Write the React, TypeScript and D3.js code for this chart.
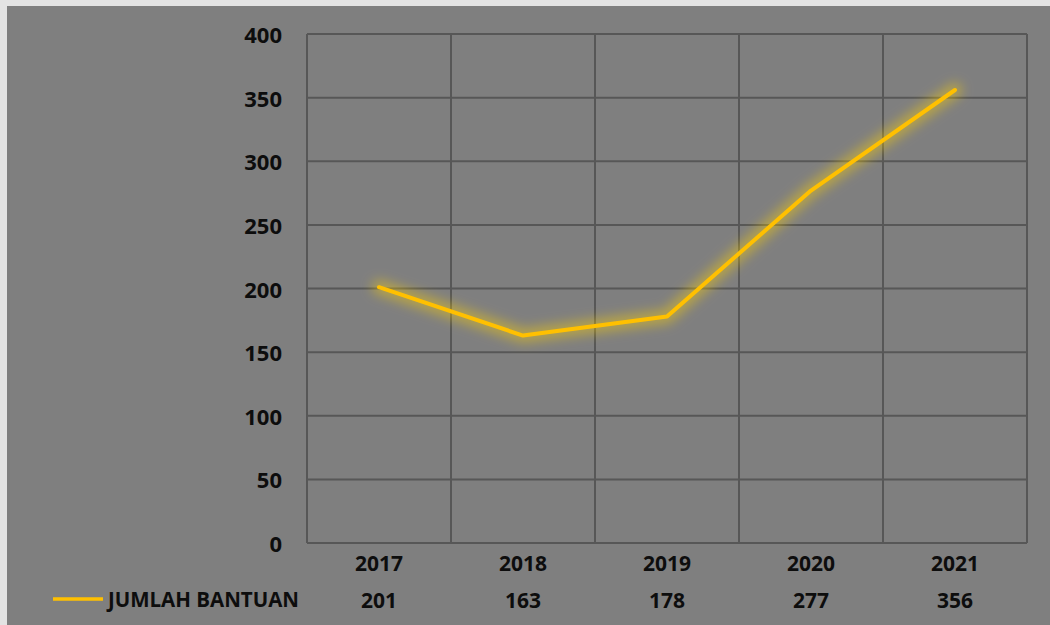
import React from "react";
import * as d3 from "d3";

const categories = ["2017", "2018", "2019", "2020", "2021"];
const values = [201, 163, 178, 277, 356];
const yTicks = [0, 50, 100, 150, 200, 250, 300, 350, 400];
const seriesName = "JUMLAH BANTUAN";

const W = 1050;
const H = 625;
const plot = { left: 307, right: 1027, top: 34, bottom: 543 };
const FONT = "'Open Sans', 'DejaVu Sans', sans-serif";

export default function App() {
  const x = d3.scaleBand<string>().domain(categories).range([plot.left, plot.right]);
  const y = d3.scaleLinear().domain([0, 400]).range([plot.bottom, plot.top]);
  const cx = (c: string) => (x(c) ?? 0) + x.bandwidth() / 2;
  const line = d3
    .line<number>()
    .x((_, i) => cx(categories[i]))
    .y((d) => y(d));
  const path = line(values) ?? "";
  const grid = "#575757";

  return (
    <svg
      width={W}
      height={H}
      style={{ position: "absolute", left: 0, top: 0 }}
      fontFamily={FONT}
    >
      <defs>
        <filter id="glow" x="-20%" y="-20%" width="140%" height="140%">
          <feGaussianBlur stdDeviation="6" />
        </filter>
      </defs>
      <rect x={0} y={0} width={W} height={H} fill="#e3e3e3" />
      <rect x={7} y={6} width={W - 7} height={H - 6} fill="#7f7f7f" />

      {yTicks.map((t) => (
        <line
          key={"h" + t}
          x1={plot.left}
          x2={plot.right}
          y1={y(t)}
          y2={y(t)}
          stroke={grid}
          strokeWidth={2}
        />
      ))}
      {[...categories.map((c) => x(c) ?? 0), plot.right].map((xv, i) => (
        <line
          key={"v" + i}
          x1={xv}
          x2={xv}
          y1={plot.top}
          y2={plot.bottom}
          stroke={grid}
          strokeWidth={2}
        />
      ))}

      {yTicks.map((t) => (
        <text
          key={"yl" + t}
          x={282}
          y={y(t)}
          textAnchor="end"
          dominantBaseline="central"
          fontSize={22}
          fontWeight="bold"
          fill="#0d0d0d"
        >
          {t}
        </text>
      ))}

      {categories.map((c) => (
        <text
          key={"xl" + c}
          x={cx(c)}
          y={563}
          textAnchor="middle"
          dominantBaseline="central"
          fontSize={21}
          fontWeight="bold"
          fill="#0d0d0d"
        >
          {c}
        </text>
      ))}

      <path
        d={path}
        fill="none"
        stroke="#ffd200"
        strokeWidth={14}
        strokeOpacity={0.45}
        strokeLinejoin="round"
        strokeLinecap="round"
        filter="url(#glow)"
      />
      <path
        d={path}
        fill="none"
        stroke="#ffc000"
        strokeWidth={4}
        strokeLinejoin="round"
        strokeLinecap="round"
      />

      <line x1={53} x2={103} y1={599} y2={599} stroke="#ffc000" strokeWidth={3.5} />
      <text
        x={299}
        y={599}
        textAnchor="end"
        dominantBaseline="central"
        fontSize={20.5}
        fontWeight="bold"
        fill="#0d0d0d"
      >
        {seriesName}
      </text>
      {values.map((v, i) => (
        <text
          key={"tv" + i}
          x={cx(categories[i])}
          y={600}
          textAnchor="middle"
          dominantBaseline="central"
          fontSize={21}
          fontWeight="bold"
          fill="#0d0d0d"
        >
          {v}
        </text>
      ))}
    </svg>
  );
}
